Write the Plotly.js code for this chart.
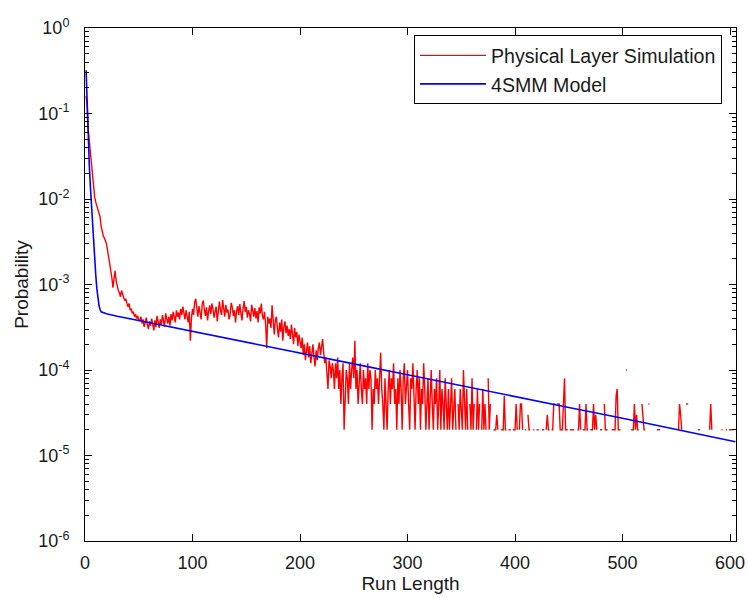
<!DOCTYPE html>
<html><head><meta charset="utf-8">
<script src="https://cdn.plot.ly/plotly-3.0.1.min.js"></script>
<style>html,body{margin:0;padding:0;background:#fff}#chart{width:748px;height:598px}</style>
</head><body><div id="chart"></div>
<script>
// Physical Layer Simulation, run length 1..50
const simHead = [
 0.16, 0.12, 0.065, 0.048, 0.035, 0.022, 0.017, 0.013, 0.0105, 0.0092,
 0.0084, 0.0079, 0.0071, 0.0062, 0.0048, 0.0041, 0.0037, 0.0035, 0.0033, 0.0030,
 0.0025, 0.0021, 0.0019, 0.0015, 0.0012, 0.00092, 0.0012, 0.00145, 0.0011, 0.00095,
 0.00085, 0.0008, 0.00072, 0.00085, 0.00075, 0.0007, 0.00065, 0.00068, 0.0006, 0.00055,
 0.0006, 0.0005, 0.00052, 0.00046, 0.00048, 0.00042, 0.00045, 0.0004, 0.00043, 0.00038
];
// run length 51..230
const simMid = [
 3.8e-4, 4.2e-4, 3.5e-4, 3.9e-4, 3.2e-4, 3.6e-4, 4.1e-4, 3.4e-4, 3.0e-4, 3.7e-4,
 3.3e-4, 4.0e-4, 3.5e-4, 2.9e-4, 3.8e-4, 3.2e-4, 4.3e-4, 3.6e-4, 3.1e-4, 3.9e-4,
 3.4e-4, 4.4e-4, 3.7e-4, 3.2e-4, 4.6e-4, 3.9e-4, 3.5e-4, 4.2e-4, 3.3e-4, 4.5e-4,
 3.8e-4, 4.8e-4, 4.0e-4, 3.6e-4, 5.0e-4, 4.2e-4, 4.7e-4, 3.9e-4, 5.2e-4, 4.4e-4,
 5.5e-4, 4.6e-4, 3.9e-4, 5.0e-4, 4.3e-4, 3.6e-4, 4.8e-4, 2.2e-4, 4.0e-4, 5.2e-4,
 4.4e-4, 6.2e-4, 6.8e-4, 5.0e-4, 4.2e-4, 5.6e-4, 4.7e-4, 3.9e-4, 5.9e-4, 6.5e-4,
 5.1e-4, 4.3e-4, 5.4e-4, 3.8e-4, 4.9e-4, 5.7e-4, 4.5e-4, 6.0e-4, 5.2e-4, 4.1e-4,
 4.8e-4, 5.5e-4, 3.7e-4, 4.6e-4, 6.3e-4, 5.0e-4, 4.4e-4, 6.6e-4, 5.3e-4, 4.2e-4,
 5.8e-4, 4.7e-4, 5.1e-4, 3.9e-4, 4.5e-4, 6.1e-4, 5.4e-4, 4.3e-4, 5.0e-4, 3.6e-4,
 4.9e-4, 5.6e-4, 4.4e-4, 5.9e-4, 4.6e-4, 3.8e-4, 5.2e-4, 6.4e-4, 4.8e-4, 5.5e-4,
 4.1e-4, 5.0e-4, 4.5e-4, 3.7e-4, 5.8e-4, 4.7e-4, 4.2e-4, 5.3e-4, 4.0e-4, 4.9e-4,
 3.6e-4, 5.4e-4, 4.6e-4, 6.0e-4, 4.3e-4, 3.9e-4, 4.8e-4, 3.4e-4, 1.8e-4, 4.2e-4,
 3.5e-4, 4.0e-4, 3.1e-4, 5.7e-4, 3.3e-4, 2.6e-4, 3.8e-4, 4.2e-4, 3.0e-4, 2.4e-4,
 3.6e-4, 2.8e-4, 3.9e-4, 2.2e-4, 3.2e-4, 3.7e-4, 2.7e-4, 3.3e-4, 2.5e-4, 3.0e-4,
 2.3e-4, 3.4e-4, 2.6e-4, 2.0e-4, 3.1e-4, 2.4e-4, 2.8e-4, 1.9e-4, 2.6e-4, 2.2e-4,
 1.8e-4, 2.4e-4, 1.5e-4, 2.0e-4, 1.3e-4, 1.7e-4, 2.1e-4, 1.4e-4, 1.9e-4, 1.2e-4,
 1.6e-4, 2.0e-4, 1.4e-4, 1.1e-4, 1.7e-4, 1.3e-4, 1.8e-4, 2.1e-4, 1.5e-4, 1.9e-4,
 2.3e-4, 1.6e-4, 1.2e-4, 1.4e-4, 1.0e-4, 6e-5, 1.3e-4, 1.1e-4, 8e-5, 1.2e-4
];
// run length 231..380
const simTail1 = [
 1.0e-4, 6e-5, 1.2e-4, 8e-5, 1.4e-4, 6e-5, 1.0e-4, 4e-5, 8e-5, 1.2e-4,
 2e-5, 6e-5, 1.0e-4, 8e-5, 4e-5, 1.2e-4, 6e-5, 1.0e-4, 1.4e-4, 8e-5,
 2.2e-4, 6e-5, 1.0e-4, 4e-5, 8e-5, 1.2e-4, 6e-5, 4e-5, 1.0e-4, 6e-5,
 8e-5, 4e-5, 1.2e-4, 6e-5, 1.0e-4, 8e-5, 2e-5, 6e-5, 4e-5, 1.0e-4,
 6e-5, 8e-5, 4e-5, 1.0e-4, 1.6e-4, 6e-5, 4e-5, 2e-5, 8e-5, 4e-5,
 2e-5, 6e-5, 1.0e-4, 4e-5, 8e-5, 6e-5, 1.2e-4, 4e-5, 6e-5, 2e-5,
 8e-5, 4e-5, 1.0e-4, 6e-5, 2e-5, 8e-5, 1.2e-4, 4e-5, 6e-5, 1.0e-4,
 4e-5, 2e-5, 8e-5, 6e-5, 1.2e-4, 4e-5, 2e-5, 6e-5, 1.0e-4, 4e-5,
 8e-5, 2e-5, 6e-5, 4e-5, 1.2e-4, 6e-5, 2e-5, 4e-5, 8e-5, 2e-5,
 6e-5, 1.0e-4, 4e-5, 2e-5, 6e-5, 4e-5, 8e-5, 2e-5, 4e-5, 1.0e-4,
 2e-5, 6e-5, 4e-5, 2e-5, 8e-5, 4e-5, 2e-5, 6e-5, 2e-5, 4e-5,
 8e-5, 2e-5, 4e-5, 6e-5, 2e-5, null, 4e-5, 2e-5, 6e-5, 4e-5,
 2e-5, 1.0e-4, 4e-5, 2e-5, 6e-5, 2e-5, null, 4e-5, 2e-5, 8e-5,
 2e-5, 4e-5, null, 2e-5, 6e-5, 2e-5, 4e-5, null, 2e-5, 6e-5,
 2e-5, 4e-5, 2e-5, null, 8e-5, 2e-5, 4e-5, null, null, 2e-5
];
// run length 381..605 (null = zero count, not drawn on log axis)
const simTail2 = [
 2e-5, 2e-5, 3e-5, 2e-5, null, null, 2e-5, 2e-5, 2e-5, 5e-5,
 2e-5, 2e-5, null, 2e-5, 2e-5, 2e-5, null, 2e-5, 2e-5, 2e-5,
 4e-5, 2e-5, null, 2e-5, 4e-5, 4e-5, 2e-5, null, 2e-5, 2e-5,
 null, 3e-5, 2e-5, 2e-5, null, null, 2e-5, 2e-5, null, 2e-5,
 2e-5, 2e-5, null, null, 2e-5, 2e-5, 2e-5, null, 2e-5, 3e-5,
 2e-5, 2e-5, null, 2e-5, 2e-5, 4e-5, 4e-5, null, 4e-5, 4e-5,
 4e-5, 2e-5, 2e-5, 2e-5, 4e-5, 8e-5, 2e-5, 2e-5, 2e-5, null,
 2e-5, 2e-5, 2e-5, 2e-5, 2e-5, null, null, 2e-5, 2e-5, 4e-5,
 2e-5, null, 2e-5, 2e-5, 2e-5, 4e-5, 2e-5, 2e-5, null, 2e-5,
 2e-5, 2e-5, 4e-5, 2e-5, 3e-5, 2e-5, null, null, 2e-5, 2e-5,
 2e-5, null, 4e-5, 2e-5, 2e-5, 2e-5, null, null, null, 2e-5,
 2e-5, 2e-5, 2e-5, 5e-5, 6e-5, 2e-5, 2e-5, 2e-5, null, null,
 null, null, 1e-4, 1e-4, null, null, null, 2e-5, 2e-5, 2e-5,
 4e-5, 2e-5, 3e-5, 2e-5, 2e-5, null, null, 4e-5, 3e-5, 2e-5,
 2e-5, null, null, 4e-5, 4e-5, null, null, null, null, null,
 null, 2e-5, 2e-5, 2e-5, 2e-5, null, null, null, null, null,
 null, null, null, null, null, null, null, null, null, null,
 null, 2e-5, 4e-5, 3e-5, 2e-5, null, null, null, 4e-5, 4e-5,
 4e-5, null, null, null, null, null, null, null, null, 2e-5,
 2e-5, 2e-5, null, null, null, null, null, null, null, null,
 2e-5, 4e-5, 2e-5, null, null, null, null, null, null, null,
 null, 2e-5, 2e-5, null, null, 2e-5, 2e-5, null, 2e-5, 2e-5,
 2e-5, 2e-5, 2e-5, null, null
];
// 4SMM Model readings
const modelX = [1, 2, 3, 4, 5, 6, 7, 8, 9, 10, 11, 12, 13, 14, 15, 20, 30, 50, 100, 150, 200, 250, 300, 350, 400, 450, 500, 550, 605];
const modelY = [0.32, 0.11, 0.045, 0.025, 0.014, 0.0085, 0.0045, 0.0028, 0.0019, 0.0013, 0.0009, 0.00068, 0.00057, 0.00051, 0.00048,
  0.000455, 0.000425, 0.00038, 0.000285, 0.000212, 0.000158, 0.000118, 8.8e-5, 6.6e-5, 4.9e-5, 3.65e-5, 2.72e-5, 2.03e-5, 1.45e-5];

const xTickVals = [0, 100, 200, 300, 400, 500, 600];
const yTickVals = [1e-6, 1e-5, 1e-4, 1e-3, 1e-2, 1e-1, 1];
const yTickText = ['10<sup>-6</sup>', '10<sup>-5</sup>', '10<sup>-4</sup>', '10<sup>-3</sup>', '10<sup>-2</sup>', '10<sup>-1</sup>', '10<sup>0</sup>'];
const legendNames = ['Physical Layer Simulation', '4SMM Model'];

const probSim = simHead.concat(simMid, simTail1, simTail2);
const runLength = probSim.map((_, i) => i + 1);

const yMinor = [];
for (let e = -6; e < 0; e++) for (let d = 2; d <= 9; d++) yMinor.push(d * Math.pow(10, e));

const FONT = 'Liberation Sans, Arial, Helvetica, sans-serif';
const INK = '#1a1a1a';
const traces = [
  {x: runLength, y: probSim, type: 'scatter', mode: 'lines', name: legendNames[0],
   line: {color: '#ff0000', width: 1.4}, connectgaps: false},
  {x: modelX, y: modelY, type: 'scatter', mode: 'lines', name: legendNames[1],
   line: {color: '#0000ff', width: 1.6}}
];
const layout = {
  width: 748, height: 598,
  margin: {l: 85, r: 12, t: 28, b: 57, pad: 0},
  paper_bgcolor: '#ffffff', plot_bgcolor: '#ffffff',
  font: {family: FONT, size: 18, color: INK},
  showlegend: true,
  legend: {x: 0.9785, y: 0.986, xanchor: 'right', yanchor: 'top', bgcolor: '#ffffff',
    bordercolor: '#000000', borderwidth: 1, itemwidth: 66,
    font: {family: FONT, size: 19.6, color: INK}},
  xaxis: {range: [0, 605.5], tickmode: 'array', tickvals: xTickVals, ticks: 'inside', ticklen: 7,
    tickcolor: '#000', tickwidth: 1, showline: true, linecolor: '#000', linewidth: 1, mirror: 'ticks',
    showgrid: false, zeroline: false, automargin: false, ticklabelstandoff: 5,
    tickfont: {family: FONT, size: 18, color: INK},
    title: {text: 'Run Length', standoff: 2, font: {family: FONT, size: 19, color: INK}}},
  yaxis: {type: 'log', range: [-6, 0], tickmode: 'array', tickvals: yTickVals, ticktext: yTickText,
    ticks: 'inside', ticklen: 7, tickcolor: '#000', tickwidth: 1, showline: true, linecolor: '#000',
    linewidth: 1, mirror: 'ticks', showgrid: false, zeroline: false, automargin: false, ticklabelstandoff: 11,
    tickfont: {family: FONT, size: 18, color: INK},
    minor: {tickmode: 'array', tickvals: yMinor, ticks: 'inside', ticklen: 4, tickcolor: '#000', showgrid: false},
    title: {text: 'Probability', standoff: 4, font: {family: FONT, size: 19, color: INK}}}
};
Plotly.newPlot('chart', traces, layout, {displayModeBar: false, staticPlot: true});
</script></body></html>
